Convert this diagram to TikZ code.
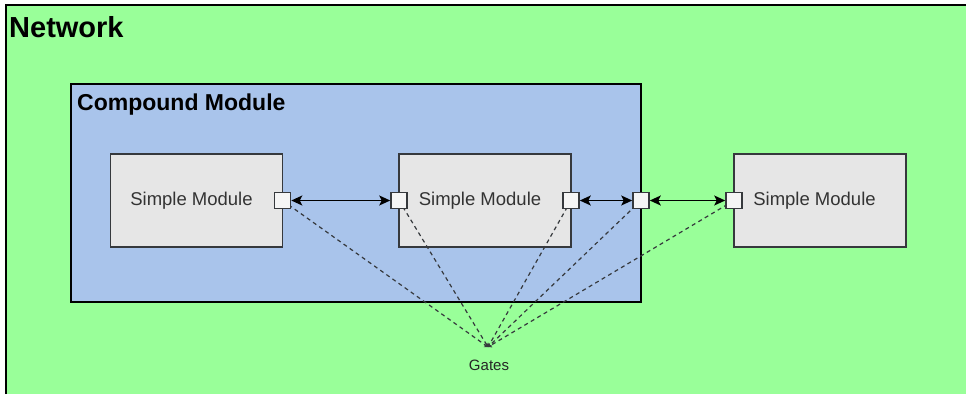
\documentclass[tikz,border=0pt]{standalone}
\usepackage{fontspec}
\setmainfont{Liberation Sans}
\usetikzlibrary{arrows.meta}
\definecolor{netgreen}{HTML}{99FF99}
\definecolor{compblue}{HTML}{A9C4EB}
\definecolor{modgray}{HTML}{E6E6E6}
\definecolor{modline}{HTML}{36393D}
\definecolor{gatefill}{HTML}{F5F5F5}
\tikzset{
  compbox/.style={draw=black, line width=1.8pt, fill=compblue, minimum width=570pt, minimum height=218pt, inner sep=0pt},
  modbox/.style={draw=modline, line width=1.8pt, fill=modgray, minimum width=172pt, minimum height=93pt, inner sep=0pt},
  modtext/.style={font=\fontsize{18.5}{20}\selectfont, text=black!80, inner sep=0pt},
  gatebox/.style={draw=modline, line width=1.6pt, fill=gatefill, minimum width=16pt, minimum height=16pt, inner sep=0pt},
  conn/.style={line width=1.6pt, black, {Stealth[length=11pt,width=10pt,inset=2.5pt]}-{Stealth[length=11pt,width=10pt,inset=2.5pt]}},
  gateline/.style={line width=1.2pt, modline, dash pattern=on 4pt off 3.5pt, -{Stealth[length=3.5pt,width=5pt]}}
}
\begin{document}
\begin{tikzpicture}[x=1pt,y=-1pt]
\useasboundingbox (0,0) rectangle (966,394);
\fill[netgreen] (6,5) rectangle (966,394);
\draw[line width=1.8pt] (6,394) -- (6,5) -- (966,5);
\node[anchor=base west, inner sep=0pt, font=\bfseries\fontsize{29}{30}\selectfont] (net) at (9,37) {Network};
\node[compbox] (comp) at (356,193) {};
\node[anchor=base west, inner sep=0pt, font=\bfseries\fontsize{23}{24}\selectfont] (comptitle) at (77,110) {Compound Module};
\node[modbox] (m1) at (196.5,200.5) {};
\node[modbox] (m2) at (485,200.5) {};
\node[modbox] (m3) at (820,200.5) {};
\node[modtext] (t1) at (191.5,200.5) {Simple Module};
\node[modtext] (t2) at (480,200.5) {Simple Module};
\node[modtext] (t3) at (814.5,200.5) {Simple Module};
\coordinate (gp) at (488,347);
\coordinate (g1c) at (282.5,200.5);
\coordinate (g2c) at (399,200.5);
\coordinate (g3c) at (571,200.5);
\coordinate (g4c) at (641,200.5);
\coordinate (g5c) at (734,200.5);
\foreach \g in {g1c,g2c,g3c,g4c,g5c} \draw[gateline] (\g) -- (gp);
\node[gatebox] (g1) at (g1c) {};
\node[gatebox] (g2) at (g2c) {};
\node[gatebox] (g3) at (g3c) {};
\node[gatebox] (g4) at (g4c) {};
\node[gatebox] (g5) at (g5c) {};
\draw[conn] (g1) -- (g2);
\draw[conn] (g3) -- (g4);
\draw[conn] (g4) -- (g5);
\node[font=\fontsize{15}{16}\selectfont, text=black!85, inner sep=0pt] (gl) at (489,365) {Gates};
\end{tikzpicture}
\end{document}
